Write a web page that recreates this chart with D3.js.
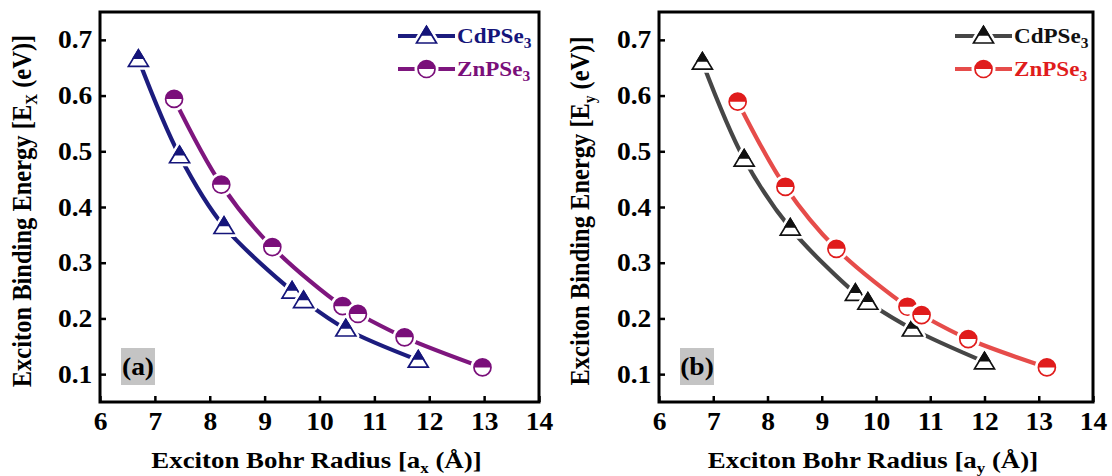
<!DOCTYPE html>
<html>
<head>
<meta charset="utf-8">
<script src="https://cdn.jsdelivr.net/npm/d3@7"></script>
<style>
  html, body { margin: 0; padding: 0; background: #fff; }
  svg { display: block; font-family: "Liberation Serif", "Times New Roman", serif; font-weight: bold; }
</style>
</head>
<body>
<svg id="fig" width="1112" height="476"></svg>
<script>
// Axis ticks
const radiusTicks = [6, 7, 8, 9, 10, 11, 12, 13, 14];
const energyTicks = [0.1, 0.2, 0.3, 0.4, 0.5, 0.6, 0.7];

// Panel (a): along x
const cdRadiusX = [6.70, 7.45, 8.26, 9.50, 9.71, 10.48, 11.80];
const cdEnergyX = [0.665, 0.492, 0.365, 0.249, 0.232, 0.181, 0.125];
const znRadiusX = [7.35, 8.21, 9.14, 10.42, 10.70, 11.55, 12.97];
const znEnergyX = [0.594, 0.440, 0.328, 0.222, 0.208, 0.166, 0.112];

// Panel (b): along y
const cdRadiusY = [6.80, 7.57, 8.42, 9.62, 9.85, 10.67, 12.00];
const cdEnergyY = [0.660, 0.486, 0.362, 0.245, 0.229, 0.181, 0.122];
const znRadiusY = [7.45, 8.33, 9.27, 10.58, 10.84, 11.70, 13.15];
const znEnergyY = [0.589, 0.436, 0.325, 0.221, 0.206, 0.163, 0.112];

const seriesNames = ["CdPSe", "ZnPSe"];

const panels = [
  {
    tag: "(a)", sub: "x", subE: "X", left: 100, right: 539,
    series: [
      { name: seriesNames[0], xs: cdRadiusX, ys: cdEnergyX, line: "#1c1c7e", mark: "#15157a", shape: "tri" },
      { name: seriesNames[1], xs: znRadiusX, ys: znEnergyX, line: "#7e167e", mark: "#7a0f7a", shape: "circ" }
    ],
    legendX: 398, titleYx: 22
  },
  {
    tag: "(b)", sub: "y", subE: "y", left: 659, right: 1093,
    series: [
      { name: seriesNames[0], xs: cdRadiusY, ys: cdEnergyY, line: "#464646", mark: "#111111", shape: "tri" },
      { name: seriesNames[1], xs: znRadiusY, ys: znEnergyY, line: "#e64c4a", mark: "#e01c1c", shape: "circ" }
    ],
    legendX: 955, titleYx: 580
  }
];

const plotTop = 12, plotBottom = 402;
const stretch = 1.1; // lettering is slightly wide
const svg = d3.select("#fig");

// Half-filled marker shapes
const triOuter = "M0,-9.5L10,7L-10,7Z";
const triTop = "M0,-9.5L5,-1.2L-5,-1.2Z";
const circR = 8.5;
const circTop = `M${-circR},0A${circR},${circR} 0 0 1 ${circR},0Z`;

function drawMarker(g, shape, color) {
  if (shape === "tri") {
    g.append("path").attr("d", triOuter).attr("fill", "#fff")
      .attr("stroke", "#fff").attr("stroke-width", 7).attr("stroke-linejoin", "round");
    g.append("path").attr("d", triOuter).attr("fill", "#fff")
      .attr("stroke", color).attr("stroke-width", 1.7).attr("stroke-linejoin", "miter");
    g.append("path").attr("d", triTop).attr("fill", color).attr("stroke", color).attr("stroke-width", 1.7);
  } else {
    g.append("circle").attr("r", circR).attr("fill", "#fff").attr("stroke", "#fff").attr("stroke-width", 7);
    g.append("path").attr("d", circTop).attr("fill", color);
    g.append("circle").attr("r", circR).attr("fill", "none").attr("stroke", color).attr("stroke-width", 1.7);
  }
}

panels.forEach(p => {
  const x = d3.scaleLinear().domain([6, 14]).range([p.left, p.right]);
  const y = d3.scaleLinear().domain([0.05, 0.75]).range([plotBottom, plotTop]);
  const g = svg.append("g");

  // Curves
  p.series.forEach(s => {
    const pts = s.xs.map((v, i) => [x(v), y(s.ys[i])]);
    g.append("path")
      .attr("d", d3.line().curve(d3.curveCatmullRom.alpha(0.5))(pts))
      .attr("fill", "none").attr("stroke", s.line).attr("stroke-width", 4.2)
      .attr("stroke-linecap", "butt");
  });

  // Markers
  p.series.forEach(s => {
    s.xs.forEach((v, i) => {
      const m = g.append("g").attr("transform", `translate(${x(v)},${y(s.ys[i])})`);
      drawMarker(m, s.shape, s.mark);
    });
  });

  // Axes with inward ticks
  const xAxis = d3.axisBottom(x).tickValues(radiusTicks).tickFormat(d3.format("d"))
    .tickSizeInner(-6).tickSizeOuter(0).tickPadding(10);
  const yAxis = d3.axisLeft(y).tickValues(energyTicks).tickFormat(d3.format(".1f"))
    .tickSizeInner(-6).tickSizeOuter(0).tickPadding(7);

  const gx = g.append("g").attr("transform", `translate(0,${plotBottom})`).call(xAxis);
  const gy = g.append("g").attr("transform", `translate(${p.left},0)`).call(yAxis);
  [gx, gy].forEach(a => {
    a.select(".domain").remove();
    a.selectAll(".tick line").attr("stroke", "#000").attr("stroke-width", 2.5);
    a.selectAll(".tick text").attr("fill", "#000").attr("font-size", 25)
      .attr("font-family", "Liberation Serif, serif").attr("font-weight", "bold")
      .attr("transform", `scale(${stretch},1)`);
  });

  // Frame
  g.append("rect").attr("x", p.left).attr("y", plotTop)
    .attr("width", p.right - p.left).attr("height", plotBottom - plotTop)
    .attr("fill", "none").attr("stroke", "#000").attr("stroke-width", 3);

  // Legend
  p.series.forEach((s, i) => {
    const ly = 36 + i * 33;
    const lg = g.append("g");
    lg.append("line").attr("x1", p.legendX).attr("x2", p.legendX + 57)
      .attr("y1", ly).attr("y2", ly).attr("stroke", s.line).attr("stroke-width", 4);
    const m = lg.append("g").attr("transform", `translate(${p.legendX + 28.5},${ly})`);
    drawMarker(m, s.shape, s.mark);
    const t = lg.append("text")
      .attr("transform", `translate(${p.legendX + 59},${ly + 7}) scale(${stretch},1)`)
      .attr("font-size", 21).attr("fill", s.mark);
    t.append("tspan").text(s.name);
    t.append("tspan").attr("font-size", 14).attr("dy", 5).text("3");
  });

  // Panel tag
  const cx = p.left + 38;
  g.append("rect").attr("x", cx - 17).attr("y", 348).attr("width", 34).attr("height", 37).attr("fill", "#c4c4c4");
  g.append("text").attr("transform", `translate(${cx},375) scale(${stretch},1)`).attr("text-anchor", "middle")
    .attr("font-size", 25).attr("fill", "#000").text(p.tag);

  // Axis titles
  const xt = g.append("text")
    .attr("transform", `translate(${(p.left + p.right) / 2 - 3},468) scale(1.12,1)`)
    .attr("text-anchor", "middle").attr("font-size", 24).attr("fill", "#000");
  xt.append("tspan").text("Exciton Bohr Radius [a");
  xt.append("tspan").attr("font-size", 15).attr("dy", 5).text(p.sub);
  xt.append("tspan").attr("dy", -5).text(" (Å)]");

  const yt = g.append("text")
    .attr("transform", `translate(${p.titleYx + 9},${(plotTop + plotBottom) / 2 + 4}) scale(${stretch},1) rotate(-90)`)
    .attr("text-anchor", "middle").attr("font-size", 24.5).attr("fill", "#000");
  yt.append("tspan").text("Exciton Binding Energy [E");
  yt.append("tspan").attr("font-size", 15).attr("dy", 5).text(p.subE);
  yt.append("tspan").attr("dy", -5).text(" (eV)]");
});
</script>
</body>
</html>
